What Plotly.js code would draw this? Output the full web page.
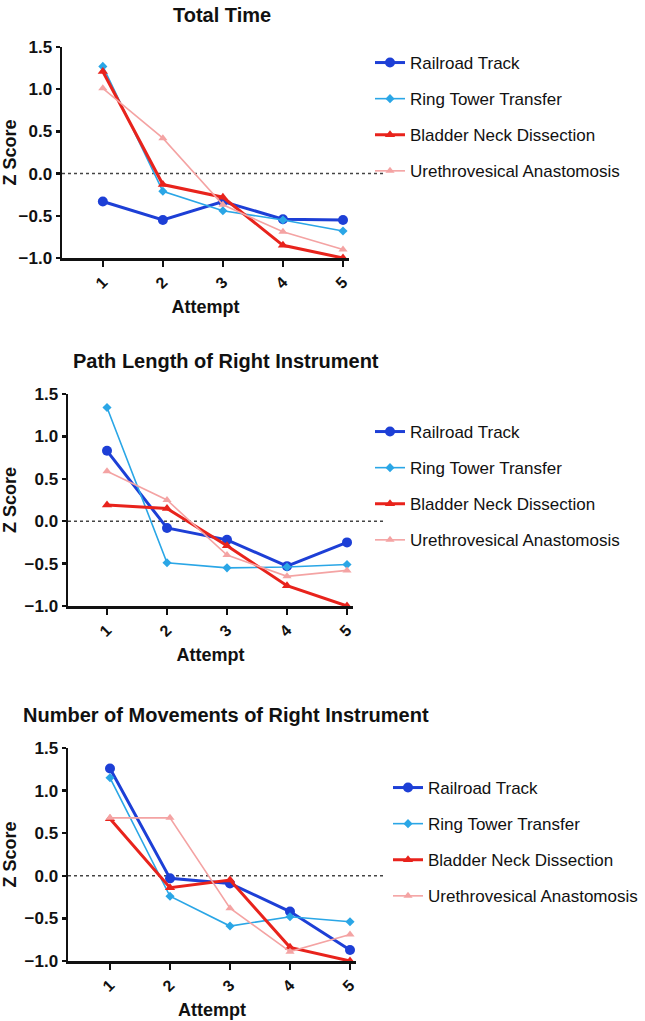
<!DOCTYPE html>
<html>
<head>
<meta charset="utf-8">
<script src="https://cdn.plot.ly/plotly-3.0.1.min.js"></script>
<style>
  html, body { margin: 0; padding: 0; background: #fff; }
  #chart { width: 645px; height: 1021px; }
</style>
</head>
<body>
<div id="chart"></div>
<script>
const attempts = [1, 2, 3, 4, 5];
const tickLabels = ["1", "2", "3", "4", "5"];
const panelTitles = ["Total Time", "Path Length of Right Instrument", "Number of Movements of Right Instrument"];
const seriesNames = ["Railroad Track", "Ring Tower Transfer", "Bladder Neck Dissection", "Urethrovesical Anastomosis"];

// z scores per panel, one array per task
const totalRailroad = [-0.33, -0.55, -0.33, -0.54, -0.55];
const totalRing = [1.27, -0.21, -0.44, -0.55, -0.68];
const totalBladder = [1.21, -0.13, -0.28, -0.85, -1.0];
const totalUretro = [1.01, 0.42, -0.37, -0.69, -0.90];

const pathRailroad = [0.83, -0.08, -0.22, -0.53, -0.25];
const pathRing = [1.34, -0.49, -0.55, -0.54, -0.51];
const pathBladder = [0.19, 0.15, -0.29, -0.76, -1.0];
const pathUretro = [0.59, 0.25, -0.40, -0.65, -0.58];

const moveRailroad = [1.26, -0.03, -0.09, -0.42, -0.87];
const moveRing = [1.15, -0.24, -0.59, -0.48, -0.54];
const moveBladder = [0.67, -0.14, -0.05, -0.84, -1.0];
const moveUretro = [0.68, 0.68, -0.38, -0.89, -0.69];

const panels = [
    [totalRailroad, totalRing, totalBladder, totalUretro],
    [pathRailroad, pathRing, pathBladder, pathUretro],
    [moveRailroad, moveRing, moveBladder, moveUretro]
];

const W = 645, H = 1021;
const font = "Liberation Sans, Arial, Helvetica, sans-serif";

const styles = [
    {color: "#1d3fd6", width: 3, symbol: "circle", size: 10},
    {color: "#2aa6e6", width: 1.6, symbol: "diamond", size: 7},
    {color: "#e8231c", width: 3, symbol: "triangle-up", size: 9},
    {color: "#f4a3a3", width: 1.6, symbol: "triangle-up", size: 8}
];

// pixel boxes of each panel: [left, right, top, bottom], x range start
const boxes = [
    {l: 62, r: 349, t: 47, b: 258, x0: 0.32, titleX: 222, titleY: 15, legX: 370, legY: 45},
    {l: 68, r: 353, t: 394, b: 606, x0: 0.35, titleX: 226, titleY: 361, legX: 370, legY: 414},
    {l: 68, r: 356, t: 748, b: 961, x0: 0.30, titleX: 226, titleY: 715, legX: 388, legY: 770}
];

const traces = [];
const layout = {
    width: W,
    height: H,
    margin: {l: 0, r: 0, t: 0, b: 0},
    paper_bgcolor: "#fff",
    plot_bgcolor: "#fff",
    font: {family: font, color: "#111"},
    showlegend: true,
    annotations: [],
    shapes: []
};

panels.forEach((panel, p) => {
    const n = p === 0 ? "" : String(p + 1);
    const box = boxes[p];
    const legendId = "legend" + n;

    panel.forEach((vals, i) => {
        const s = styles[i];
        traces.push({
            x: attempts,
            y: vals,
            xaxis: "x" + n,
            yaxis: "y" + n,
            type: "scatter",
            mode: "lines+markers",
            name: seriesNames[i],
            legend: legendId,
            legendgroup: "g" + p + "_" + i,
            line: {color: s.color, width: s.width},
            marker: {color: s.color, symbol: s.symbol, size: s.size},
            cliponaxis: false
        });
    });

    layout["xaxis" + n] = {
        domain: [box.l / W, box.r / W],
        anchor: "y" + n,
        range: [box.x0, 5.1],
        tickvals: attempts,
        ticktext: tickLabels,
        tickangle: -45,
        tickfont: {size: 16, weight: "bold"},
        showgrid: false,
        zeroline: false,
        showline: true,
        linecolor: "#111",
        linewidth: 2.5,
        ticks: "outside",
        ticklen: 6,
        tickwidth: 2.5,
        tickcolor: "#111",
        title: {text: "Attempt", font: {size: 18, weight: "bold"}, standoff: 10}
    };
    layout["yaxis" + n] = {
        domain: [1 - box.b / H, 1 - box.t / H],
        anchor: "x" + n,
        range: [-1, 1.5],
        tickvals: [-1, -0.5, 0, 0.5, 1, 1.5],
        tickformat: ".1f",
        tickfont: {size: 17, weight: "bold"},
        showgrid: false,
        zeroline: false,
        showline: true,
        linecolor: "#111",
        linewidth: 2.5,
        ticks: "outside",
        ticklen: 4,
        tickwidth: 2.5,
        tickcolor: "#111",
        title: {text: "Z Score", font: {size: 18, weight: "bold"}, standoff: 6}
    };
    layout[legendId] = {
        x: box.legX / W,
        y: 1 - box.legY / H,
        xanchor: "left",
        yanchor: "top",
        font: {size: 17, family: font, color: "#111"},
        tracegroupgap: 11,
        bgcolor: "rgba(0,0,0,0)"
    };

    // dotted reference line at zero, running into the legend area
    layout.shapes.push({
        type: "line",
        xref: "paper",
        yref: "y" + n,
        x0: box.l / W,
        x1: 385 / W,
        y0: 0,
        y1: 0,
        line: {color: "#444", width: 1.5, dash: "dot"},
        layer: "below"
    });

    layout.annotations.push({
        text: "<b>" + panelTitles[p] + "</b>",
        xref: "paper",
        yref: "paper",
        x: box.titleX / W,
        y: 1 - box.titleY / H,
        xanchor: "center",
        yanchor: "middle",
        showarrow: false,
        font: {size: 20, family: font, color: "#111"}
    });
});

Plotly.newPlot("chart", traces, layout, {displayModeBar: false, staticPlot: true});
</script>
</body>
</html>
